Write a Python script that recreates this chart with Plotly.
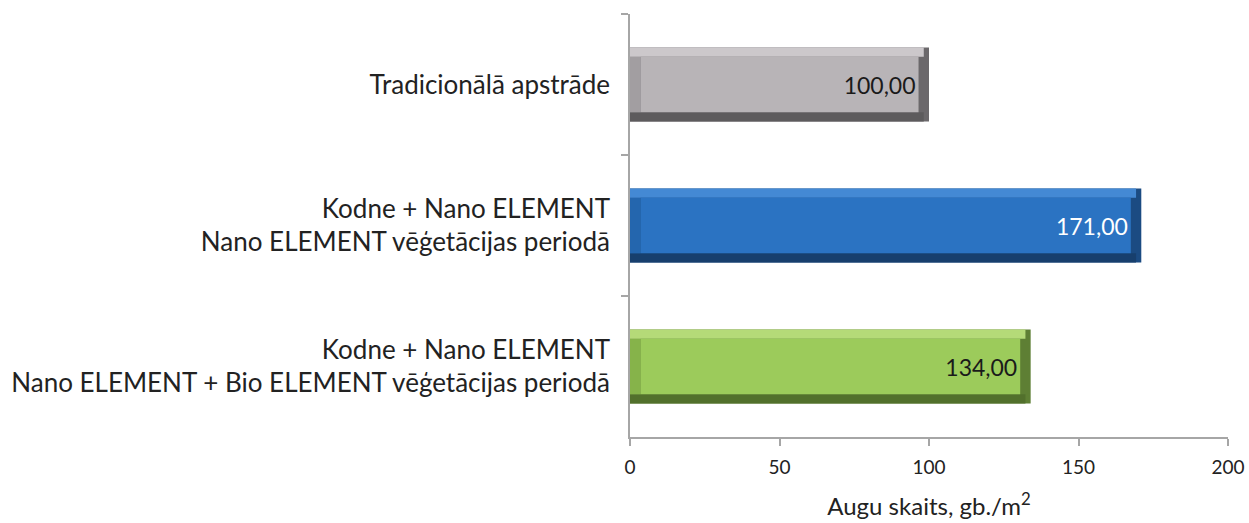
import plotly.graph_objects as go

categories = [
    "Tradicionālā apstrāde",
    "Kodne + Nano ELEMENT<br>Nano ELEMENT vēģetācijas periodā",
    "Kodne + Nano ELEMENT<br>Nano ELEMENT + Bio ELEMENT vēģetācijas periodā",
]
values = [100.0, 171.0, 134.0]
value_labels = ["100,00", "171,00", "134,00"]
x_ticks = [0, 50, 100, 150, 200]

face_colors = ["#b8b4b7", "#2b73c2", "#9ccb5b"]
top_colors = ["#ccc8cb", "#4489d4", "#b5da78"]
left_colors = ["#a29ea1", "#2466ae", "#86b34a"]
right_colors = ["#6b686b", "#1b4b82", "#5e7f34"]
bottom_colors = ["#5d5b5d", "#173f6d", "#52702c"]
text_colors = ["#1a1a1a", "#ffffff", "#1a1a1a"]

W = 0.525
BH = 0.065
INSET = 3.5

FONT = "Lato, 'Open Sans', sans-serif"

fig = go.Figure()

def add(x, base, offset, width, colors, **kw):
    fig.add_trace(go.Bar(
        y=categories, x=x, base=base, orientation="h",
        offset=offset, width=width,
        marker=dict(color=colors, line=dict(width=0)),
        hoverinfo="skip", showlegend=False, **kw))

add(values, [0] * 3, -W / 2, W, right_colors)
add([v - INSET * 0.5 for v in values], [0] * 3, W / 2 - BH, BH, bottom_colors)
add([INSET] * 3, [0] * 3, -W / 2 + BH, W - 2 * BH, left_colors)
add([v - INSET * 0.5 for v in values], [0] * 3, -W / 2, BH, top_colors)
add([v - 2 * INSET for v in values], [INSET] * 3, -W / 2 + BH, W - 2 * BH, face_colors,
    text=value_labels, textposition="inside", insidetextanchor="end",
    textfont=dict(family=FONT, size=23, color=text_colors), textangle=0,
    cliponaxis=False)

fig.update_layout(
    barmode="overlay",
    width=1249, height=523,
    margin=dict(l=630, r=21, t=14, b=86, autoexpand=False),
    paper_bgcolor="white", plot_bgcolor="white",
    font=dict(family=FONT, color="#222222"),
)
fig.update_xaxes(
    range=[0, 200], tickvals=x_ticks, ticktext=[str(t) for t in x_ticks],
    showgrid=False, zeroline=False, automargin=False,
    showline=True, linecolor="#a6a6a6", linewidth=1.5,
    ticks="outside", ticklen=7, tickcolor="#a6a6a6", tickwidth=1.5,
    tickfont=dict(family=FONT, size=19, color="#222222"),
    ticklabelstandoff=5,
    title=dict(text="Augu skaits, gb./m<sup>2</sup>",
               font=dict(family=FONT, size=24, color="#222222"), standoff=22),
)
fig.update_yaxes(
    autorange=False, range=[2.5, -0.5], type="category",
    showgrid=False, zeroline=False, automargin=False,
    showline=True, linecolor="#a6a6a6", linewidth=1.5,
    ticks="outside", ticklen=7, tickcolor="#a6a6a6", tickwidth=1.5,
    tickson="boundaries",
    tickfont=dict(family=FONT, size=26, color="#222222"),
    ticklabelstandoff=13,
)

fig.write_html("out.html", config={"displayModeBar": False},
               post_script="document.body.style.margin='0';document.body.style.overflow='hidden';")
